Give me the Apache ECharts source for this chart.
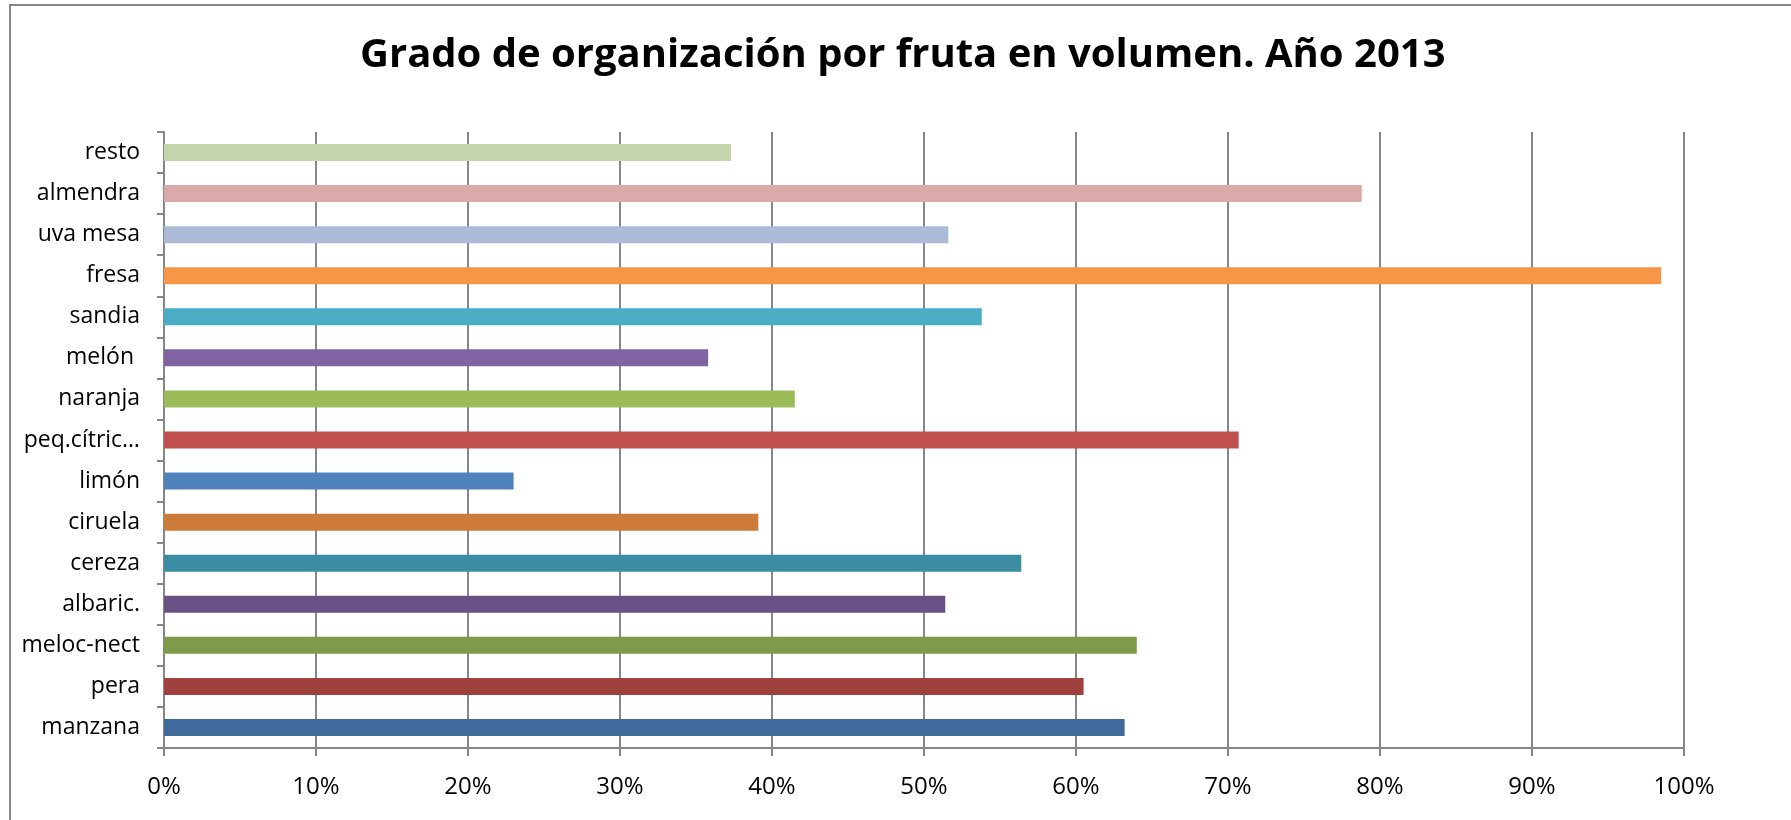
<!DOCTYPE html>
<html>
<head>
  <meta charset="utf-8">
  <title>Grado de organización</title>
  <style>
    html, body { margin: 0; padding: 0; background: #fff; overflow: hidden; }
    #chart { width: 1791px; height: 820px; }
  </style>
</head>
<body>
  <div id="chart"></div>
  <script src="https://cdn.jsdelivr.net/npm/echarts@6/dist/echarts.min.js"></script>
  <script>
    // categorias de abajo hacia arriba (como en el eje de Excel)
    const frutas = ['manzana', 'pera', 'meloc-nect', 'albaric.', 'cereza', 'ciruela', 'limón',
      'peq.cítric…', 'naranja', 'melón ', 'sandia', 'fresa', 'uva mesa', 'almendra', 'resto']
    // grado de organización, %
    const grado = [63.2, 60.5, 64.0, 51.4, 56.4, 39.1, 23.0, 70.7, 41.5, 35.8, 53.8, 98.5, 51.6, 78.8, 37.3]
    const colores = ['#40699c', '#9e413e', '#7f9a48', '#695185', '#3c8da3', '#cc7b38', '#4f81bd',
      '#c0504d', '#9bbb59', '#8064a2', '#4bacc6', '#f79646', '#aabad7', '#d9aaa9', '#c6d6ac']
    const titulo = 'Grado de organización por fruta en volumen. Año 2013'

    const font = '"Open Sans", sans-serif'
    const gris = '#868686'

    let chart = echarts.init(document.getElementById('chart'))

    let option = {
      animation: false,
      title: {
        text: titulo,
        left: 360,
        top: 36,
        padding: 0,
        textStyle: { fontFamily: font, fontWeight: 'bold', fontSize: 40, color: '#000' },
      },
      graphic: [
        {
          type: 'rect',
          shape: { x: 10, y: 5, width: 3000, height: 2000 },
          style: { fill: 'none', stroke: gris, lineWidth: 2 },
          silent: true,
        },
      ],
      grid: { left: 164, right: 107, top: 132, bottom: 72 },
      xAxis: {
        type: 'value',
        min: 0,
        max: 100,
        interval: 10,
        axisLine: { show: true, lineStyle: { color: gris, width: 2 } },
        axisTick: { show: true, length: 8, lineStyle: { color: gris, width: 2 } },
        splitLine: { show: true, lineStyle: { color: gris, width: 2 } },
        axisLabel: {
          margin: 27,
          fontFamily: font,
          fontSize: 24,
          color: '#000',
          formatter: '{value}%',
        },
      },
      yAxis: {
        type: 'category',
        data: frutas,
        axisLine: { show: true, lineStyle: { color: gris, width: 2 } },
        axisTick: { show: true, length: 7, lineStyle: { color: gris, width: 2 } },
        axisLabel: {
          margin: 24,
          fontFamily: font,
          fontSize: 23,
          color: '#000',
        },
      },
      series: [
        {
          type: 'bar',
          barWidth: 17,
          data: grado.map((v, i) => ({ value: v, itemStyle: { color: colores[i] } })),
        },
      ],
    }

    chart.setOption(option)
  </script>
</body>
</html>
